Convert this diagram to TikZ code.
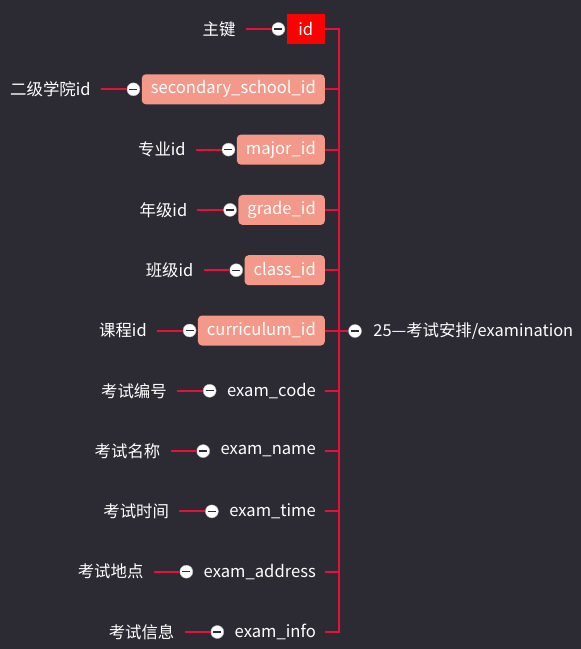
\documentclass[tikz,border=0pt]{standalone}
\usepackage{fontspec}
\setmainfont{Noto Sans CJK SC}
\usetikzlibrary{positioning}

\definecolor{bgdark}{HTML}{2C2A33}
\definecolor{linkred}{HTML}{E8103A}
\definecolor{keyred}{HTML}{FF0000}
\definecolor{fieldpink}{HTML}{F4998A}

\tikzset{
  field/.style={anchor=east, text=white, inner xsep=9pt, minimum height=30pt,
    font=\fontsize{16.6}{18}\selectfont},
  keybox/.style={field, fill=keyred, minimum width=38pt},
  idbox/.style={field, fill=fieldpink, rounded corners=4pt},
  plainbox/.style={field},
  notetext/.style={text=white, inner xsep=10pt, font=\fontsize{16.4}{18}\selectfont},
  toggle/.style={circle, fill=white, draw=gray!60, thin, inner sep=0pt, minimum size=13pt,
    path picture={\draw[bgdark, line width=1.3pt]
      ([xshift=-4pt]path picture bounding box.center) --
      ([xshift=4pt]path picture bounding box.center);}},
  link/.style={linkred, line width=2pt}
}

\begin{document}
\begin{tikzpicture}[x=1pt, y=-1pt]
        \fill[bgdark] (0,0) rectangle (581,649);
        \useasboundingbox (0,0) rectangle (581,649);
        \coordinate (spine) at (339,331);
        % fields of the table
        \foreach \i/\sty/\fld/\note in {
            1/keybox/id/主键,
            2/idbox/secondary\_school\_id/二级学院id,
            3/idbox/major\_id/专业id,
            4/idbox/grade\_id/年级id,
            5/idbox/class\_id/班级id,
            6/idbox/curriculum\_id/课程id,
            7/plainbox/exam\_code/考试编号,
            8/plainbox/exam\_name/考试名称,
            9/plainbox/exam\_time/考试时间,
            10/plainbox/exam\_address/考试地点,
            11/plainbox/exam\_info/考试信息} {
            \node[\sty] (f\i) at (325, {29+60.3*(\i-1)}) {\fld};
            \node[toggle, left=1.5pt of f\i] (t\i) {};
            \node[notetext, left=26pt of t\i] (n\i) {\note};
            \draw[link] (n\i) -- (t\i);
        }
        \draw[link] (f1.east) -| (f11.east -| spine) -- (f11.east);
        \foreach \i in {2,...,10} {
            \draw[link] (f\i.east) -- (f\i.east -| spine);
        }
        % table name
        \node[toggle] (t0) at (355,331) {};
        \node[notetext, right=1.5pt of t0] (root) {25—考试安排/examination};
        \draw[link] (spine) -- (t0);
    \end{tikzpicture}
\end{document}
